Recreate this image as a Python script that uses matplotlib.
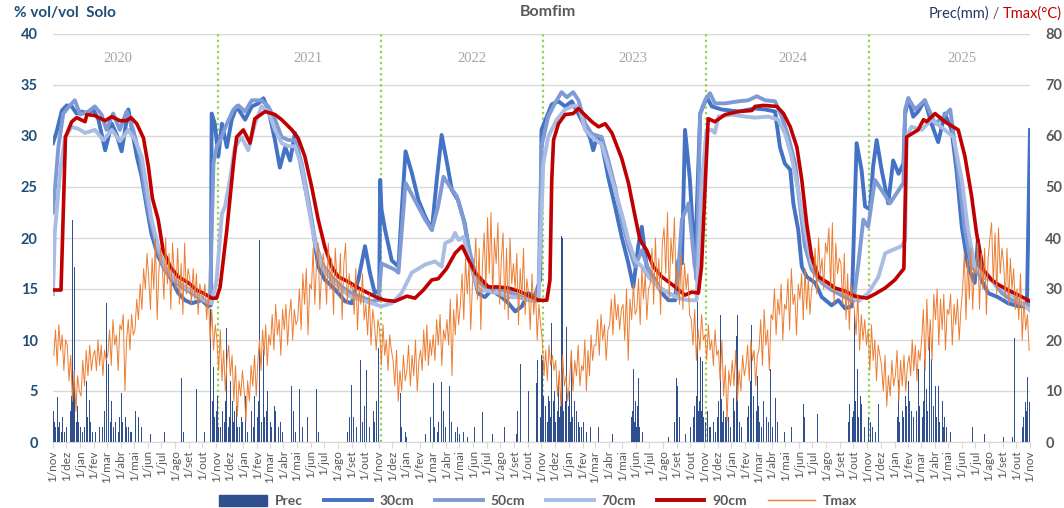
import numpy as np
import pandas as pd
import matplotlib
matplotlib.use("Agg")
import matplotlib.pyplot as plt
from matplotlib.lines import Line2D
from matplotlib.patches import Patch

plt.rcParams["font.family"] = ["Lato", "DejaVu Sans"]

START = pd.Timestamp("2019-11-01")
END = pd.Timestamp("2025-11-01")
MESES = ["jan", "fev", "mar", "abr", "mai", "jun", "jul", "ago", "set", "out", "nov", "dez"]

# soil moisture (% vol/vol) -- day offsets from 1/nov/2019
d30 = [0, 8, 20, 31, 42, 53, 64, 79, 90, 102,
       117, 132, 143, 154, 169, 180, 188, 199, 210, 221,
       236, 251, 266, 281, 296, 311, 334, 348, 354, 356,
       363, 371, 379, 390, 401, 412, 431, 446, 461, 472,
       483, 498, 509, 521, 532, 543, 554, 565, 580, 595,
       610, 625, 640, 655, 670, 685, 700, 711, 722, 732,
       734, 737, 745, 760, 775, 782, 791, 805, 820, 835,
       850, 861, 872, 883, 895, 909, 924, 939, 954, 969,
       984, 1007, 1022, 1037, 1052, 1066, 1081, 1093, 1096, 1108,
       1119, 1134, 1149, 1164, 1175, 1190, 1205, 1212, 1220, 1231,
       1246, 1261, 1276, 1291, 1302, 1313, 1321, 1332, 1351, 1366,
       1381, 1396, 1403, 1411, 1418, 1429, 1440, 1452, 1467, 1478,
       1500, 1538, 1575, 1598, 1620, 1631, 1642, 1654, 1661, 1672,
       1680, 1691, 1710, 1725, 1747, 1762, 1777, 1792, 1803, 1814,
       1822, 1833, 1840, 1848, 1859, 1874, 1885, 1897, 1908, 1912,
       1919, 1930, 1941, 1956, 1971, 1986, 2001, 2016, 2027, 2039,
       2053, 2068, 2075, 2083, 2098, 2120, 2143, 2166, 2185, 2192]
v30 = [29.3, 30.4, 32.5, 33.0, 32.9, 32.2, 32.4, 32.2, 32.6, 31.6,
       28.6, 31.2, 30.1, 28.5, 32.6, 29.9, 28.0, 26.0, 23.1, 20.4,
       18.2, 16.9, 15.9, 14.6, 13.9, 13.6, 13.9, 13.3, 13.4, 32.2,
       31.2, 28.0, 31.2, 28.9, 31.6, 32.9, 31.6, 32.9, 33.2, 33.7,
       32.6, 29.6, 26.9, 28.9, 27.6, 30.3, 27.6, 25.1, 21.8, 17.2,
       15.9, 15.3, 14.6, 13.8, 13.6, 15.9, 19.2, 16.6, 14.6, 14.9,
       25.7, 22.8, 20.8, 17.8, 17.2, 22.4, 28.5, 26.4, 23.7, 22.1,
       20.8, 25.7, 30.1, 27.6, 24.7, 23.7, 21.4, 17.2, 14.6, 14.2,
       14.9, 14.2, 13.6, 12.8, 13.3, 14.6, 14.3, 15.9, 30.6, 31.9,
       33.1, 33.4, 32.9, 33.4, 32.5, 31.2, 29.8, 28.6, 29.8, 29.3,
       25.9, 23.1, 20.1, 17.5, 15.2, 19.2, 21.1, 17.2, 15.9, 14.6,
       13.9, 13.9, 17.8, 17.5, 30.6, 25.7, 17.2, 32.2, 33.8, 32.9,
       32.6, 32.4, 32.7, 32.6, 32.4, 28.9, 27.3, 26.7, 23.4, 20.8,
       17.2, 16.2, 15.6, 14.2, 13.4, 13.9, 13.1, 13.3, 29.3, 26.7,
       23.1, 22.8, 27.0, 29.6, 26.7, 23.4, 27.6, 26.3, 27.3, 32.2,
       33.7, 31.9, 32.4, 33.5, 31.2, 29.4, 32.2, 30.6, 26.7, 21.1,
       17.2, 15.6, 19.8, 15.9, 14.6, 14.2, 13.6, 13.3, 13.3, 30.6]

d50 = [0, 12, 23, 38, 49, 61, 79, 94, 109, 120,
       135, 150, 165, 180, 195, 206, 218, 233, 247, 266,
       289, 311, 334, 352, 360, 367, 375, 390, 405, 416,
       431, 446, 468, 483, 498, 513, 528, 543, 558, 573,
       588, 603, 625, 648, 670, 693, 715, 730, 737, 767,
       775, 791, 812, 835, 850, 864, 876, 891, 906, 921,
       936, 951, 969, 984, 1007, 1029, 1052, 1074, 1089, 1096,
       1111, 1126, 1141, 1153, 1167, 1179, 1194, 1209, 1231, 1246,
       1261, 1276, 1291, 1306, 1321, 1336, 1358, 1381, 1399, 1411,
       1426, 1437, 1444, 1452, 1463, 1474, 1485, 1508, 1538, 1560,
       1579, 1598, 1620, 1635, 1650, 1665, 1676, 1687, 1702, 1725,
       1747, 1777, 1796, 1807, 1818, 1829, 1844, 1859, 1878, 1893,
       1908, 1912, 1919, 1934, 1956, 1979, 1998, 2013, 2020, 2031,
       2046, 2061, 2083, 2106, 2129, 2151, 2173, 2192]
v50 = [22.5, 28.9, 32.2, 33.0, 33.5, 32.1, 32.4, 32.9, 32.1, 30.6,
       32.2, 30.6, 32.4, 30.6, 28.0, 24.7, 21.8, 19.2, 17.2, 16.0,
       15.2, 14.6, 13.9, 13.6, 27.3, 28.9, 29.6, 31.2, 32.6, 33.0,
       32.4, 33.5, 33.5, 32.9, 31.6, 29.9, 29.6, 29.6, 27.3, 23.7,
       19.8, 17.5, 16.2, 15.2, 14.6, 14.2, 13.8, 13.9, 17.5, 16.9,
       16.6, 25.4, 23.7, 21.8, 20.8, 23.1, 26.0, 25.0, 24.1, 21.8,
       18.5, 15.9, 15.2, 15.2, 14.9, 14.6, 14.2, 13.9, 13.9, 29.0,
       31.9, 33.2, 34.3, 33.8, 34.3, 33.5, 31.2, 30.2, 29.9, 27.6,
       25.0, 21.8, 19.2, 17.2, 18.8, 16.9, 15.2, 14.6, 14.2, 21.8,
       23.4, 18.5, 15.9, 32.2, 33.5, 34.2, 33.2, 33.2, 33.4, 33.5,
       33.9, 33.5, 33.4, 31.9, 29.9, 27.3, 23.1, 19.2, 16.9, 15.6,
       14.9, 14.2, 13.8, 17.5, 21.8, 21.1, 25.7, 24.7, 23.4, 24.4,
       25.4, 32.6, 33.7, 32.6, 33.5, 31.2, 31.9, 32.6, 30.3, 26.4,
       20.8, 17.2, 16.2, 15.9, 14.6, 13.9, 13.6, 13.4]

d70 = [0, 4, 16, 27, 42, 57, 72, 94, 113, 132,
       150, 169, 184, 199, 210, 221, 236, 251, 274, 296,
       319, 341, 356, 367, 379, 386, 397, 408, 423, 438,
       453, 468, 483, 498, 513, 528, 543, 558, 573, 588,
       603, 625, 648, 670, 693, 715, 737, 760, 782, 805,
       835, 857, 872, 880, 895, 902, 910, 921, 936, 954,
       977, 999, 1022, 1044, 1066, 1089, 1100, 1111, 1130, 1149,
       1171, 1182, 1194, 1209, 1231, 1246, 1261, 1276, 1291, 1306,
       1321, 1336, 1358, 1381, 1403, 1426, 1444, 1455, 1466, 1478,
       1485, 1493, 1523, 1553, 1575, 1605, 1627, 1642, 1657, 1672,
       1687, 1702, 1725, 1747, 1777, 1807, 1829, 1852, 1867, 1882,
       1904, 1912, 1915, 1926, 1949, 1971, 2001, 2020, 2039, 2053,
       2068, 2091, 2114, 2136, 2158, 2192]
v70 = [14.5, 20.5, 26.5, 29.9, 30.9, 30.7, 30.3, 30.6, 29.6, 30.6,
       29.5, 30.6, 29.6, 28.0, 25.0, 21.8, 19.2, 17.2, 15.9, 15.2,
       14.6, 13.9, 13.6, 15.9, 22.4, 23.1, 25.7, 28.9, 29.9, 28.6,
       31.2, 32.9, 32.4, 30.6, 29.3, 29.0, 29.0, 27.0, 23.1, 19.5,
       17.2, 15.9, 14.9, 14.2, 13.9, 13.6, 13.3, 13.6, 14.6, 16.6,
       17.4, 17.7, 17.2, 19.5, 19.8, 20.5, 19.8, 20.1, 17.5, 14.9,
       14.8, 14.6, 14.2, 14.2, 13.9, 13.8, 27.3, 29.9, 31.6, 32.6,
       33.0, 32.6, 30.6, 29.9, 29.2, 27.0, 24.7, 22.4, 19.8, 17.8,
       17.2, 16.2, 15.2, 14.6, 14.1, 13.9, 13.9, 25.0, 30.5, 30.6,
       30.3, 31.9, 32.1, 31.9, 31.8, 31.9, 31.6, 30.3, 28.0, 24.7,
       20.8, 17.5, 15.9, 15.2, 14.6, 13.8, 14.6, 16.2, 18.5, 18.8,
       19.2, 19.8, 29.9, 30.9, 30.6, 31.6, 30.6, 29.9, 25.7, 20.8,
       17.2, 16.2, 15.6, 14.9, 14.2, 12.9]

d90 = [0, 18, 28, 42, 53, 72, 76, 94, 117, 132,
       150, 165, 175, 188, 203, 214, 223, 236, 247, 263,
       281, 304, 322, 337, 356, 367, 375, 390, 405, 412,
       427, 442, 453, 476, 498, 513, 536, 550, 565, 580,
       595, 610, 625, 640, 663, 685, 707, 730, 745, 767,
       794, 812, 831, 850, 864, 883, 902, 918, 932, 947,
       962, 977, 999, 1022, 1044, 1066, 1089, 1108, 1115, 1119,
       1123, 1134, 1149, 1167, 1179, 1190, 1209, 1224, 1239, 1254,
       1276, 1291, 1306, 1317, 1332, 1347, 1366, 1381, 1396, 1418,
       1433, 1448, 1455, 1470, 1485, 1508, 1538, 1568, 1575, 1594,
       1624, 1639, 1654, 1669, 1680, 1691, 1702, 1717, 1739, 1754,
       1777, 1799, 1826, 1844, 1867, 1889, 1909, 1915, 1930, 1941,
       1953, 1960, 1979, 2001, 2031, 2046, 2061, 2072, 2087, 2106,
       2122, 2143, 2166, 2192]
v90 = [14.9, 14.9, 29.9, 31.4, 31.8, 31.4, 32.1, 32.0, 31.5, 31.9,
       31.5, 31.5, 31.8, 31.2, 29.8, 27.0, 23.9, 21.8, 18.8, 17.2,
       16.2, 15.6, 14.9, 14.6, 14.1, 14.1, 15.2, 20.8, 27.3, 29.9,
       30.6, 29.3, 31.7, 32.4, 32.1, 31.6, 30.6, 29.8, 28.0, 25.1,
       21.8, 19.1, 17.2, 16.2, 15.7, 15.1, 14.6, 14.1, 13.9, 13.8,
       14.3, 14.1, 14.9, 15.9, 16.0, 17.0, 18.5, 19.2, 17.9, 16.6,
       15.9, 15.2, 15.2, 15.1, 14.8, 14.4, 13.9, 13.9, 15.9, 25.7,
       29.6, 31.2, 32.1, 32.2, 32.7, 32.2, 31.4, 30.9, 31.2, 30.3,
       27.8, 25.4, 22.1, 19.8, 18.8, 17.2, 16.2, 15.7, 15.2, 14.4,
       14.7, 14.6, 17.2, 31.7, 31.4, 32.1, 32.4, 32.5, 32.9, 33.0,
       32.9, 32.2, 30.9, 28.9, 25.7, 21.4, 18.2, 16.2, 15.6, 15.1,
       14.8, 14.3, 14.1, 14.5, 15.1, 15.9, 17.0, 29.9, 30.3, 30.6,
       31.6, 31.4, 32.2, 31.4, 30.6, 28.0, 24.1, 20.5, 16.9, 15.9,
       15.4, 14.9, 14.4, 13.8]

# daily rain (mm) -- day offset, amount
prec_day = [0, 4, 9, 11, 13, 18, 22, 43, 45, 48, 49, 52, 56, 76, 81, 88, 105, 120, 124, 128,
            154, 157, 162, 166, 173, 191, 218, 251, 289, 292, 322, 341, 354, 357, 361, 366, 370, 375,
            390, 395, 402, 408, 415, 422, 442, 453, 458, 464, 472, 478, 482, 487, 496, 505, 516,
            536, 539, 554, 572, 592, 595, 670, 675, 682, 689, 704, 711, 730,
            779, 781, 794, 835, 853, 857, 862, 872, 880, 889, 902, 913, 929, 945, 963, 985,
            1012, 1041, 1043, 1048, 1066, 1085, 1088, 1097, 1099, 1104, 1111, 1119, 1122, 1126,
            1131, 1135, 1141, 1144, 1149, 1153, 1158, 1164, 1169, 1171, 1178, 1185, 1205, 1223,
            1256, 1297, 1302, 1306, 1309, 1313, 1322, 1380, 1399, 1402, 1420, 1440, 1445, 1447,
            1449, 1452, 1458, 1463,
            1465, 1472, 1490, 1497, 1499, 1508, 1512, 1526, 1534, 1536, 1540, 1564, 1567, 1575,
            1580, 1586, 1594, 1609, 1620, 1642, 1658, 1683, 1687, 1716, 1788, 1793, 1799, 1804,
            1811, 1815, 1829, 1838, 1852, 1894, 1897, 1912, 1919, 1926, 1941, 1956, 1960, 1967,
            1971, 1979, 1986, 1995, 2001, 2013, 2064, 2091, 2132, 2152, 2158, 2181, 2187, 2190,
            # smaller rains inside the wet spells
            2, 6, 15, 26, 30, 39, 41, 47, 54, 58, 62, 66, 70, 78, 84, 96, 110, 116, 131, 135,
            140, 146, 150, 169, 177, 184, 198, 363, 368, 372, 380, 384, 387, 393, 399, 405, 411,
            418, 426, 431, 436, 446, 450, 461, 468, 475, 491, 500, 510, 525, 545, 560, 660, 665,
            695, 699, 718, 722, 726, 790, 848, 866, 876, 884, 895, 907, 920, 1093, 1101, 1106,
            1109, 1114, 1117, 1124, 1128, 1133, 1137, 1139, 1146, 1151, 1156, 1161, 1166, 1174,
            1181, 1190, 1196, 1300, 1304, 1311, 1316, 1395, 1405, 1430, 1436, 1443, 1451, 1455,
            1460, 1468, 1476, 1481, 1486, 1494, 1502, 1505, 1516, 1520, 1530, 1544, 1558, 1561,
            1571, 1578, 1583, 1590, 1600, 1605, 1614, 1626, 1785, 1796, 1801, 1807, 1820, 1834,
            1845, 1900, 1905, 1909, 1915, 1922, 1930, 1934, 1938, 1945, 1950, 1953, 1963, 1975,
            1983, 1990, 1998, 2005, 2175, 2178, 2184]
prec_mm = [15, 4, 3, 8.9, 3, 2, 5, 43.5, 5, 34.4, 6, 4, 3, 11.9, 8.3, 2, 3, 27.2, 15.3, 4,
           9.6, 4, 5, 3, 2, 5, 1.5, 2, 12.5, 2, 10.3, 2, 26, 8, 14.8, 6, 4, 3,
           22.3, 5, 8, 6, 3, 5, 15.3, 9, 5, 39.6, 18.3, 6, 10, 4, 7, 3, 2,
           11, 6, 10.3, 5, 10.3, 2, 11.1, 5, 3, 16.1, 14.1, 3, 18.5,
           9.6, 3, 1, 1.5, 11.5, 3, 2, 11.8, 3, 11, 2, 1.5, 1, 3, 5.8, 1.5,
           3, 1.5, 6, 15.3, 10, 11.5, 16, 17, 16, 5, 9, 23.3, 8, 10,
           6, 12, 40.3, 40, 8, 22.6, 10, 17.6, 6, 8, 4, 3, 3, 3,
           1.5, 5, 14.3, 8, 3, 12.5, 2, 1, 12.5, 11, 1.5, 7, 27.5, 25.6,
           6, 16.6, 15.9, 3,
           4, 3, 5, 25, 8.5, 5, 5, 8.7, 20.7, 25, 4, 12, 23, 18.8,
           13, 4, 8, 14.4, 8.7, 2, 3, 7.5, 5, 5.5, 7.5, 5, 25.2, 14.4,
           9, 7.5, 5, 3, 7.5, 5, 12.1, 9, 12, 6, 14.4, 16.3, 10.3, 21,
           16.3, 11, 11, 8, 5, 2, 3, 1.5, 1, 1, 20.3, 7.8, 12.7, 7.8,
           6, 3, 4, 2, 3, 6, 9, 12, 7, 4, 3, 2, 3, 5, 4, 2, 3, 6, 8, 3,
           4, 2, 5, 3, 2, 6, 3, 5, 9, 3, 6, 4, 8, 3, 12, 4, 7,
           3, 4, 9, 2, 6, 3, 8, 4, 5, 3, 6, 4, 3, 2, 3, 2, 5,
           4, 7, 6, 4, 8, 2, 5, 4, 6, 5, 4, 3, 2, 5, 9, 7,
           4, 8, 5, 6, 4, 9, 5, 7, 6, 5, 7, 4, 5, 6,
           3, 4, 2, 6, 4, 7, 3, 4, 5, 3, 5, 9, 8, 6,
           5, 6, 3, 4, 2, 8, 4, 6, 5, 3, 6, 3, 5, 7,
           9, 6, 7, 3, 5, 4, 3, 4, 4, 6, 8, 5, 3, 4,
           2, 4, 6, 5, 7, 8, 5, 9, 6, 7, 5, 8, 6, 7,
           5, 4, 3, 3, 3, 5, 6]

# Tmax (C), eight readings per month, nov/2019 .. out/2025
tmax = [
    17, 22, 15, 23, 18, 21, 14, 20,   19, 12, 17, 8, 14, 6, 13, 10,
    9, 16, 11, 18, 13, 19, 14, 17,    18, 14, 20, 15, 19, 13, 18, 16,
    17, 22, 15, 24, 19, 21, 14, 23,   22, 25, 10, 20, 24, 18, 25, 21,
    22, 28, 24, 31, 26, 34, 30, 37,   32, 26, 36, 30, 40, 24, 33, 38,
    35, 28, 40, 31, 37, 26, 39, 33,   30, 38, 27, 35, 25, 39, 29, 34,
    32, 27, 34, 28, 33, 25, 31, 29,   28, 31, 24, 29, 20, 26, 18, 23,
    20, 14, 22, 12, 18, 10, 16, 19,   13, 17, 8, 15, 5, 12, 9, 14,
    10, 4, 12, 8, 15, 11, 17, 9,      16, 20, 14, 22, 17, 23, 15, 21,
    19, 25, 18, 27, 21, 24, 17, 26,   22, 27, 19, 25, 28, 20, 26, 23,
    24, 30, 22, 33, 27, 34, 21, 31,   30, 38, 27, 35, 39, 26, 33, 37,
    34, 27, 39, 30, 36, 25, 38, 32,   29, 37, 24, 35, 39, 27, 33, 30,
    31, 25, 34, 22, 30, 27, 33, 24,   27, 21, 29, 19, 26, 23, 18, 24,
    22, 15, 23, 17, 20, 14, 21, 18,   16, 11, 18, 8, 14, 10, 17, 12,
    14, 19, 11, 17, 13, 20, 10, 16,   18, 14, 22, 16, 23, 15, 20, 17,
    21, 16, 24, 19, 25, 15, 22, 20,   24, 19, 28, 13, 26, 21, 29, 23,
    27, 33, 24, 36, 29, 35, 22, 31,   34, 40, 28, 38, 22, 35, 41, 30,
    44, 33, 45, 29, 40, 35, 43, 27,   36, 41, 26, 38, 24, 40, 31, 35,
    30, 37, 23, 34, 28, 38, 25, 32,   29, 22, 33, 25, 30, 20, 27, 23,
    20, 13, 18, 12, 19, 15, 17, 14,   16, 9, 14, 7, 17, 11, 13, 8,
    12, 18, 10, 16, 13, 19, 11, 15,   14, 20, 10, 18, 13, 21, 16, 19,
    19, 24, 17, 25, 20, 23, 16, 22,   23, 28, 21, 29, 24, 27, 22, 26,
    27, 20, 30, 16, 28, 24, 31, 25,   26, 32, 23, 34, 28, 33, 24, 30,
    31, 38, 27, 40, 30, 36, 25, 39,   42, 33, 45, 28, 40, 35, 44, 30,
    34, 27, 37, 26, 35, 30, 33, 25,   24, 19, 26, 16, 22, 18, 25, 20,
    21, 16, 23, 18, 20, 15, 22, 17,   18, 12, 20, 9, 15, 4, 14, 11,
    16, 11, 18, 8, 14, 10, 17, 13,    15, 19, 12, 20, 16, 18, 11, 17,
    18, 24, 15, 26, 19, 22, 14, 25,   24, 30, 21, 28, 25, 31, 20, 27,
    26, 32, 22, 34, 27, 29, 21, 31,   28, 33, 24, 34, 26, 32, 25, 30,
    32, 38, 29, 40, 33, 36, 30, 39,   37, 42, 30, 43, 27, 39, 33, 36,
    35, 27, 37, 24, 33, 22, 31, 28,   26, 21, 29, 18, 25, 20, 24, 19,
    22, 14, 23, 16, 20, 12, 19, 17,   15, 10, 17, 7, 13, 9, 16, 11,
    13, 18, 8, 16, 11, 17, 10, 15,    17, 13, 20, 14, 19, 12, 18, 16,
    20, 26, 14, 28, 18, 24, 16, 29,   24, 30, 19, 28, 22, 29, 18, 26,
    25, 29, 19, 27, 23, 28, 20, 26,   30, 37, 24, 36, 28, 38, 26, 34,
    33, 39, 26, 37, 30, 38, 25, 36,   40, 43, 31, 41, 29, 42, 33, 38,
    35, 28, 38, 27, 36, 30, 34, 26,   30, 24, 33, 20, 28, 22, 25, 18,
]

year_labels = ["2020", "2021", "2022", "2023", "2024", "2025"]
year_label_day = [146, 572, 940, 1301, 1660, 2040]
season_marks = ["2020-11-05", "2021-11-05", "2022-11-05", "2023-11-05", "2024-11-05"]


def to_dates(days):
    return START + pd.to_timedelta(np.asarray(days, dtype=float), unit="D")


# tmax sample dates: 8 evenly spread points in each month
month_starts = pd.date_range(START, END, freq="MS")
tmax_dates = []
for m0, m1 in zip(month_starts[:-1], month_starts[1:]):
    span = (m1 - m0).days
    for k in range(8):
        tmax_dates.append(m0 + pd.Timedelta(days=(k + 0.5) * span / 8))

GREY = "#595959"
NAVY = "#1F4E79"
C30, C50, C70, C90 = "#4472C4", "#7F9BD6", "#A9BCE3", "#C00000"
CPREC, CTMAX = "#2F4F8F", "#ED7D31"

fig = plt.figure(figsize=(10.64, 5.08), dpi=100)
ax = fig.add_axes([53 / 1064, 66 / 508, 977 / 1064, 408 / 508])
ax2 = ax.twinx()

ax.set_ylim(0, 40)
ax2.set_ylim(0, 80)
ax.set_xlim(START, END)

ax.set_yticks(range(0, 41, 5))
ax2.set_yticks(range(0, 81, 10))
ax.grid(axis="y", color="#D9D9D9", lw=1)
ax.set_axisbelow(True)

for dt in season_marks:
    ax.axvline(pd.Timestamp(dt), color="#92D050", lw=1.6, ls=(0, (1, 1.5)), zorder=1)

for d, v, c, lw in [(d30, v30, C30, 2.8), (d50, v50, C50, 2.8),
                    (d70, v70, C70, 2.8), (d90, v90, C90, 2.6)]:
    ax.plot(to_dates(d), v, color=c, lw=lw, solid_joinstyle="round", zorder=3)

ax2.bar(to_dates(prec_day), prec_mm, width=2.2, color=CPREC, lw=0, zorder=1)
ax2.plot(tmax_dates, tmax, color=CTMAX, lw=0.7, zorder=2)

for lab, d in zip(year_labels, year_label_day):
    ax.text(to_dates([d])[0], 37.6, lab, ha="center", va="center",
            fontsize=10.5, color="#A6A6A6", family=["Liberation Serif", "DejaVu Serif"])

ax.set_xticks(month_starts)
ax.set_xticklabels(["1/" + MESES[d.month - 1] for d in month_starts], rotation=90)
ax.tick_params(axis="x", length=4, color="#D9D9D9", labelsize=8.5, labelcolor=GREY, pad=2)
ax.tick_params(axis="y", length=0, labelsize=10.5, labelcolor=NAVY, pad=11)
ax2.tick_params(axis="y", length=0, labelsize=10.5, labelcolor=GREY, pad=11)
for t in ax.get_yticklabels():
    t.set_fontweight("bold")
for t in ax2.get_yticklabels():
    t.set_fontweight("bold")

for sp in ["top", "left", "right"]:
    ax.spines[sp].set_visible(False)
    ax2.spines[sp].set_visible(False)
ax.spines["bottom"].set_color("#D9D9D9")
ax2.spines["bottom"].set_visible(False)

fig.text(548 / 1064, 1 - 12 / 508, "Bomfim", ha="center", va="center",
         fontsize=11.5, fontweight="bold", color=GREY)
fig.text(14 / 1064, 1 - 13 / 508, "% vol/vol  Solo", ha="left", va="center",
         fontsize=11, fontweight="bold", color=NAVY)

fig.canvas.draw()
r = fig.canvas.get_renderer()
W = fig.bbox.width
xr = 1062 / 1064
for s, c in [("Tmax(°C)", "#C00000"), (" / ", GREY), ("Prec(mm)", "#1F3864")]:
    t = fig.text(xr, 1 - 14 / 508, s, ha="right", va="center", fontsize=10.5, color=c)
    xr = t.get_window_extent(r).x0 / W

handles = [Patch(color=CPREC),
           Line2D([], [], color=C30, lw=2.8),
           Line2D([], [], color=C50, lw=2.8),
           Line2D([], [], color=C70, lw=2.8),
           Line2D([], [], color=C90, lw=2.8),
           Line2D([], [], color=CTMAX, lw=1)]
leg = fig.legend(handles, ["Prec", "30cm", "50cm", "70cm", "90cm", "Tmax"],
                 loc="center", bbox_to_anchor=(0.506, 7 / 508), ncol=6, frameon=False,
                 handlelength=3.45, handleheight=0.8, handletextpad=0.55, columnspacing=1.5,
                 borderpad=0, prop={"weight": "bold", "size": 10})
for t in leg.get_texts():
    t.set_color(GREY)

fig.savefig("out.png", dpi=100)
